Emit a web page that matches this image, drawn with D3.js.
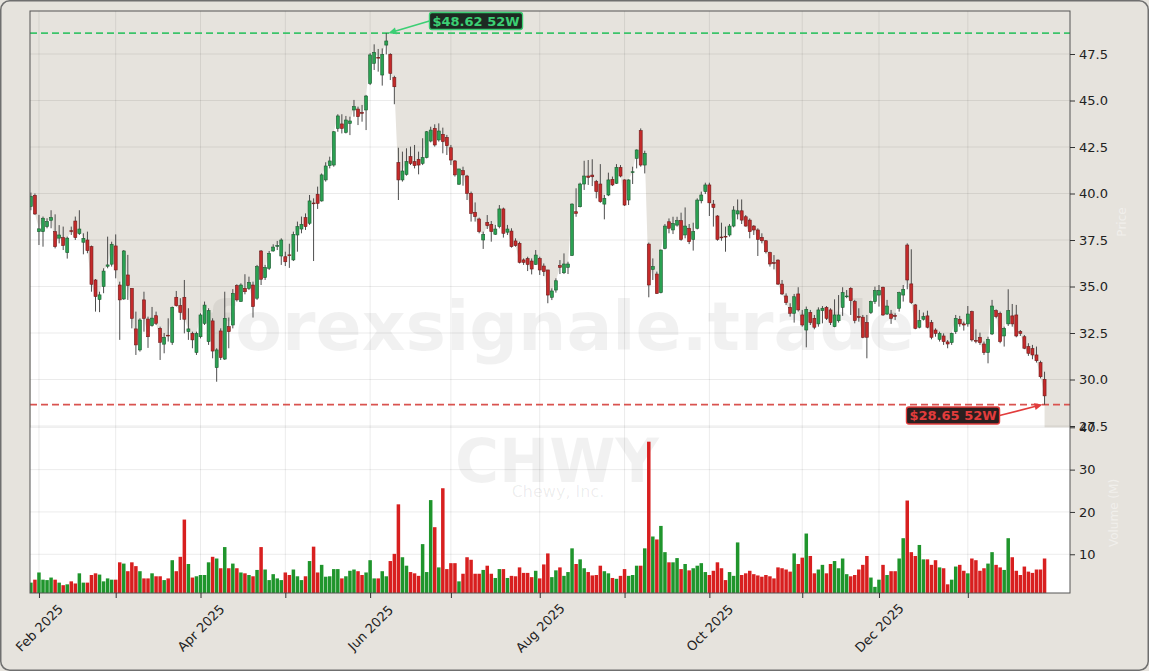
<!DOCTYPE html>
<html><head><meta charset="utf-8">
<script src="https://cdn.jsdelivr.net/npm/d3@7/dist/d3.min.js"></script>
<style>html,body{margin:0;padding:0;background:#e6e3dd;}svg{display:block;font-family:"DejaVu Sans",sans-serif;}</style>
</head><body><svg id="c" width="1149" height="671"></svg>
<script>
// ---- data ----
const startDate = "2025-01-30", endDate = "2026-01-30";
const holidays = ["2025-02-17","2025-04-18","2025-05-26","2025-06-19","2025-07-04","2025-09-01","2025-11-27","2025-12-25","2026-01-01","2026-01-19"];
const open = [39.30,39.90,37.95,37.95,38.22,38.56,37.95,37.60,37.63,36.82,38.00,38.52,37.84,37.38,37.50,37.14,35.35,34.30,35.00,36.09,36.20,37.18,35.08,34.33,35.62,34.90,32.72,31.59,34.28,33.25,32.90,33.43,32.75,31.90,32.38,32.00,34.42,33.97,34.42,32.57,32.48,31.45,32.30,33.02,32.04,33.15,30.64,32.61,31.10,32.84,32.93,35.05,34.19,34.90,34.90,35.08,34.37,36.91,35.48,35.98,36.91,37.18,36.64,36.60,36.70,36.43,37.77,38.09,38.70,38.40,39.49,39.96,39.60,40.73,41.50,41.53,43.50,43.74,43.29,43.77,44.49,44.54,44.36,44.49,45.92,47.00,47.32,46.37,47.98,47.48,46.23,41.66,40.73,41.03,41.98,41.71,41.84,41.62,41.93,42.82,43.50,42.88,43.18,43.02,42.46,41.75,40.50,41.23,40.94,40.01,38.99,38.63,37.50,38.45,38.34,37.81,38.22,39.17,37.92,37.98,37.45,37.32,36.43,36.50,36.37,36.19,36.50,36.10,35.89,34.42,34.81,36.12,35.74,36.03,36.67,39.02,39.29,40.51,40.94,40.99,40.64,40.51,39.43,39.92,40.76,40.55,41.40,40.73,39.65,41.15,41.89,43.38,41.53,37.28,35.92,35.67,34.67,37.05,38.48,38.04,38.30,38.54,37.77,38.13,37.53,38.13,39.61,40.10,40.46,39.43,38.79,37.66,37.70,37.77,38.25,38.90,39.07,38.75,38.57,38.25,38.04,37.64,37.46,36.82,36.28,36.42,35.13,34.49,33.88,33.56,34.60,33.47,32.66,33.60,33.29,32.99,33.70,33.88,33.74,32.84,33.16,33.88,34.47,34.90,34.19,33.38,33.35,33.06,33.60,34.19,34.54,34.96,33.52,33.52,33.44,33.83,34.54,37.23,35.14,34.01,32.81,33.24,33.42,33.06,32.66,32.16,32.34,32.02,31.98,32.57,33.24,32.99,32.99,33.65,32.10,32.27,31.91,31.45,32.45,33.70,33.56,32.34,32.99,33.42,33.47,32.57,32.30,31.77,31.66,31.32,30.91,30.01];
const high = [40.05,40.00,38.85,38.76,38.67,39.10,38.88,38.30,38.22,37.68,38.22,38.76,39.10,37.86,37.95,37.20,35.40,34.72,35.98,37.68,37.41,37.80,35.26,36.96,36.70,34.90,33.65,33.29,34.72,33.38,33.90,33.65,32.84,32.50,33.29,33.92,34.76,34.37,35.35,33.83,32.57,32.57,33.56,34.19,33.83,33.29,31.68,32.75,34.72,33.33,34.86,35.12,35.17,35.66,35.53,35.26,36.16,36.96,36.16,36.91,37.27,37.45,37.59,36.87,37.30,37.95,38.49,38.76,38.93,39.92,39.74,40.37,41.08,41.68,41.98,43.36,44.26,44.26,44.17,44.13,45.03,44.67,44.76,45.30,47.54,48.02,47.77,47.80,48.62,47.54,46.33,42.46,42.25,42.43,42.52,42.61,42.25,42.97,43.36,43.59,43.72,43.77,43.54,43.15,42.61,41.80,41.32,41.44,41.00,40.10,39.52,38.70,37.95,38.84,38.52,38.31,39.38,39.24,38.31,38.13,37.59,37.41,36.51,36.60,36.51,36.96,36.60,36.24,35.89,34.90,35.44,36.42,36.78,36.33,39.47,40.28,40.58,41.76,41.80,41.84,40.73,41.58,39.92,41.12,40.91,41.58,41.53,40.76,40.76,41.44,42.37,43.50,42.30,37.36,36.51,35.80,36.99,38.36,38.66,38.75,38.75,38.97,39.25,38.36,38.43,39.74,40.10,40.58,40.58,39.65,38.84,38.43,38.22,38.36,39.32,39.68,39.68,38.84,38.66,38.30,38.13,37.86,37.50,36.87,36.69,36.46,35.35,34.63,34.10,34.60,34.96,33.74,33.92,33.74,33.47,33.88,33.95,33.95,33.83,34.31,34.54,34.96,34.81,34.96,34.28,33.83,33.47,33.47,34.24,34.99,35.08,34.99,34.28,33.74,33.56,34.72,35.08,37.32,37.00,34.06,33.74,33.60,33.70,33.20,32.75,32.57,32.48,32.12,32.52,33.47,33.42,33.11,33.95,33.70,32.70,32.52,32.04,32.30,34.28,33.77,33.65,32.84,34.85,34.06,34.01,32.66,32.39,31.95,31.86,31.77,31.01,30.42];
const low = [39.10,38.85,37.23,37.14,38.13,38.13,37.05,37.32,36.96,36.50,37.77,37.50,37.77,36.73,36.79,34.72,33.65,33.62,34.64,35.98,36.07,35.44,32.13,34.28,34.28,32.75,31.32,31.50,32.57,31.70,32.84,32.93,31.05,31.41,32.04,31.86,33.92,33.20,32.48,32.13,31.68,31.32,32.21,32.93,31.86,31.14,29.88,31.05,31.05,31.68,32.75,34.19,34.19,34.58,34.81,33.33,34.28,35.08,35.35,35.89,36.87,36.96,36.16,36.10,36.00,36.37,36.87,37.86,38.04,38.31,36.37,39.17,39.56,40.64,41.35,41.44,43.32,43.23,43.23,43.14,44.13,43.68,43.86,43.41,45.83,46.64,46.55,45.80,47.48,46.10,44.80,39.65,40.64,40.96,41.53,41.35,41.03,41.53,41.89,42.75,42.52,42.79,42.16,42.07,41.53,40.91,40.46,40.42,39.65,38.49,38.49,37.86,37.02,38.09,37.41,37.77,38.13,37.63,37.77,37.09,37.14,36.24,36.16,35.83,35.65,36.16,35.62,35.56,34.10,34.27,34.67,35.67,35.67,35.67,36.64,38.75,39.25,40.19,40.46,40.40,39.74,39.50,38.61,39.86,40.40,40.51,40.87,39.33,39.38,40.51,41.35,41.44,41.08,34.42,35.35,34.60,34.63,37.00,37.86,37.82,38.22,37.46,37.59,37.28,36.93,38.07,39.47,39.97,38.79,38.22,37.46,37.46,36.87,37.68,38.18,38.61,38.36,38.22,37.59,37.77,36.64,37.32,36.78,36.07,35.92,35.08,34.54,34.00,33.38,33.06,33.65,32.84,31.73,32.93,32.70,32.84,33.02,33.20,32.93,32.81,33.06,33.42,34.37,33.47,33.02,33.11,32.22,31.14,33.52,34.06,33.92,33.42,33.47,32.99,33.20,33.65,34.19,34.85,34.06,32.70,32.75,33.17,32.75,32.16,32.30,32.04,31.86,31.68,31.86,32.45,32.84,32.63,32.84,32.04,31.95,31.86,31.32,30.87,32.39,33.29,31.95,31.77,32.88,32.84,32.27,32.34,31.63,31.27,31.09,30.91,30.06,28.65];
const close = [39.85,38.90,38.10,38.67,38.49,38.70,37.14,37.77,37.20,37.60,37.97,37.63,38.09,37.59,36.93,35.12,34.46,34.55,35.83,36.16,37.27,35.89,34.28,36.91,35.05,33.29,31.86,33.20,33.29,32.30,33.30,33.02,32.00,32.27,32.36,33.88,33.97,33.61,33.24,32.72,32.13,32.48,33.47,34.00,33.70,31.53,31.59,31.18,33.29,32.57,34.63,34.28,35.08,34.72,35.22,33.92,36.07,35.39,36.02,36.78,37.12,37.20,37.50,36.33,36.69,37.80,38.22,38.34,38.22,39.60,39.47,39.47,41.00,41.48,41.75,43.32,44.17,43.50,43.95,43.90,44.67,44.13,44.31,45.24,47.45,47.59,47.30,47.48,48.20,46.46,45.74,40.73,41.21,41.71,41.62,41.50,41.53,41.93,43.32,43.41,42.61,43.36,42.79,42.57,41.80,41.00,41.32,41.00,40.01,38.93,38.76,37.95,37.80,38.27,37.95,38.09,39.17,37.86,38.09,37.14,37.20,36.30,36.30,36.19,35.94,36.69,35.89,35.80,34.54,34.76,35.31,36.03,36.21,36.21,39.43,38.93,40.51,40.94,40.87,40.90,40.10,39.56,39.74,40.73,40.46,41.40,40.94,39.38,40.73,41.17,42.34,41.53,42.16,35.08,36.07,34.63,36.96,38.25,38.13,38.39,38.54,37.53,38.25,37.41,37.95,39.65,39.92,40.46,39.50,39.25,37.53,37.64,37.68,38.25,39.11,39.07,38.57,38.25,37.95,38.04,37.53,37.46,36.87,36.21,36.24,35.13,34.60,34.13,33.56,34.45,33.74,32.93,33.77,33.06,32.81,33.74,33.83,33.29,33.06,33.47,33.47,34.67,34.49,34.24,33.17,33.35,32.27,32.27,34.19,34.78,34.78,33.47,33.95,33.29,33.42,34.67,34.85,35.35,34.13,32.75,33.17,33.38,32.81,32.27,32.48,32.48,32.04,31.91,32.48,33.29,32.99,32.93,33.52,32.13,32.09,31.98,31.45,32.16,33.95,33.38,32.04,32.75,33.70,32.99,32.34,32.48,31.68,31.41,31.32,31.01,30.15,29.12];
const volume = [3.3,4.0,5.7,4.0,3.9,4.5,4.0,3.3,2.7,2.9,3.6,3.1,5.5,3.3,3.3,5.1,5.5,5.2,3.6,4.3,4.0,4.0,8.1,7.8,6.0,8.1,7.2,6.0,4.3,4.3,5.5,4.8,4.8,3.9,4.3,8.6,6.0,9.4,18.2,7.7,4.5,4.8,5.1,5.1,8.1,9.4,9.0,6.7,11.7,6.7,7.8,6.7,5.7,5.5,5.1,4.8,6.3,11.7,6.4,3.9,5.3,4.3,3.9,5.7,5.1,6.4,4.8,3.9,4.8,8.4,11.8,5.7,7.5,4.7,4.8,6.5,6.5,4.3,4.8,6.1,6.4,6.0,5.1,5.7,8.6,4.3,4.3,6.0,4.8,8.4,10.1,21.8,9.3,7.3,5.8,5.5,4.9,12.4,5.8,22.8,16.4,6.9,25.6,6.5,7.9,7.9,3.6,5.4,9.3,8.7,5.4,5.4,6.3,7.3,5.4,4.4,6.5,6.5,4.4,4.9,4.8,6.9,5.6,5.6,4.6,6.1,4.3,7.6,10.2,4.6,6.2,6.9,4.9,5.8,11.4,7.7,8.8,6.7,5.8,5.0,5.1,7.3,6.0,5.5,4.4,4.2,4.9,6.5,4.9,5.1,7.3,7.3,11.4,36.6,14.2,13.5,16.7,10.5,8.1,8.1,9.1,6.5,7.7,6.2,6.7,7.3,7.9,5.8,5.1,6.1,8.1,6.7,3.9,5.8,4.9,12.8,5.1,5.5,6.1,5.3,5.0,4.7,5.1,4.8,4.3,6.9,6.7,6.4,5.9,10.2,7.7,9.2,14.9,9.6,5.5,6.4,7.5,5.5,7.7,8.4,6.7,9.0,5.3,4.8,5.1,6.4,7.5,9.6,4.5,2.3,4.0,7.5,5.1,6.0,6.0,9.0,13.8,22.7,10.5,9.6,12.2,8.8,8.8,7.5,8.6,6.9,6.7,2.9,4.0,7.1,7.5,6.1,5.5,9.0,8.6,6.1,6.7,7.8,10.5,7.5,6.9,6.3,13.8,9.3,6.1,5.1,7.1,5.9,5.6,6.4,6.4,9.0];
const priceTicks = [27.5,30.0,32.5,35.0,37.5,40.0,42.5,45.0,47.5];
const volumeTicks = [10,20,30,40];
const labeledMonths = [1,3,5,7,9,11];
const high52 = 48.62, low52 = 28.65;
const high52Label = "$48.62 52W", low52Label = "$28.65 52W";
const watermark = "forexsignale.trade", ticker = "CHWY", company = "Chewy, Inc.";
const priceAxisTitle = "Price", volumeAxisTitle = "Volume (M)";

// ---- trading days ----
const parse = d3.utcParse("%Y-%m-%d"), fmt = d3.utcFormat("%Y-%m-%d");
const hol = new Set(holidays);
const dates = [];
for (let d = parse(startDate); d <= parse(endDate); d = d3.utcDay.offset(d, 1)) {
  const wd = d.getUTCDay();
  if (wd === 0 || wd === 6 || hol.has(fmt(d))) continue;
  dates.push(d);
}
const n = close.length;
const data = d3.range(n).map(i => ({i, date: dates[i], o: open[i], h: high[i], l: low[i], c: close[i], v: volume[i]}));
const monthStarts = data.filter((d, k) => k > 0 && d.date.getUTCMonth() !== data[k-1].date.getUTCMonth());

// ---- layout ----
const W = 1149, H = 671;
const L = 30, R = 1070, T = 11, B = 593;
const x = d3.scaleLinear().domain([-0.22, 257.3]).range([L, R]);
const y = d3.scaleLinear().domain([27.5, 47.5]).range([426, 54]);
const yv = d3.scaleLinear().domain([0.85, 40]).range([B, 427.3]);
const BG = "#e6e3dd";
const svg = d3.select("#c");

svg.append("rect").attr("x", 0.75).attr("y", 0.75).attr("width", W - 1.5).attr("height", H - 1.5)
  .attr("rx", 9).attr("fill", BG).attr("stroke", "#6f6f6f").attr("stroke-width", 1.5);

const defs = svg.append("defs");
defs.append("clipPath").attr("id", "plot").append("rect").attr("x", L).attr("y", T).attr("width", R - L).attr("height", B - T);
const g = svg.append("g").attr("clip-path", "url(#plot)");
g.append("rect").attr("x", L).attr("y", T).attr("width", R - L).attr("height", B - T).attr("fill", BG);

// white area under closes + volume pane
const area = d3.area().x(d => x(d.i)).y0(B).y1(d => y(d.c));
g.append("path").datum(data).attr("d", area).attr("fill", "#ffffff");
g.append("rect").attr("x", L).attr("y", yv(40)).attr("width", R - L).attr("height", B - yv(40)).attr("fill", "#ffffff");

// grid
const grid = g.append("g").attr("stroke", "#000").attr("stroke-opacity", 0.1).attr("stroke-width", 0.8);
grid.selectAll(".gx").data(monthStarts).join("line").attr("x1", d => x(d.i)).attr("x2", d => x(d.i)).attr("y1", T).attr("y2", B);
grid.selectAll(".gy").data(priceTicks).join("line").attr("x1", L).attr("x2", R).attr("y1", d => y(d)).attr("y2", d => y(d));
grid.selectAll(".gv").data(volumeTicks).join("line").attr("x1", L).attr("x2", R).attr("y1", d => yv(d)).attr("y2", d => yv(d));

// watermarks
g.append("text").attr("x", 560).attr("y", 350).attr("text-anchor", "middle").attr("font-size", 68).attr("font-weight", "bold")
  .attr("fill", "#000").attr("fill-opacity", 0.055).text(watermark);
g.append("text").attr("x", 557).attr("y", 482).attr("text-anchor", "middle").attr("font-size", 60).attr("font-weight", "bold")
  .attr("fill", "#000").attr("fill-opacity", 0.055).text(ticker);
g.append("text").attr("x", 558).attr("y", 497).attr("text-anchor", "middle").attr("font-size", 16)
  .attr("fill", "#000").attr("fill-opacity", 0.08).text(company);

// 52w lines
g.append("line").attr("x1", L).attr("x2", R).attr("y1", y(high52)).attr("y2", y(high52))
  .attr("stroke", "#3cc46a").attr("stroke-width", 1.6).attr("stroke-dasharray", "7,4");
g.append("line").attr("x1", L).attr("x2", R).attr("y1", y(low52)).attr("y2", y(low52))
  .attr("stroke", "#d9534f").attr("stroke-width", 1.6).attr("stroke-dasharray", "7,4");

// volume bars
const GV = "#1f952c", RV = "#d81f1f";
g.append("g").selectAll("rect").data(data).join("rect")
  .attr("x", d => x(d.i) - 1.75).attr("width", 3.5)
  .attr("y", d => yv(d.v)).attr("height", d => B - yv(d.v))
  .attr("fill", d => d.c >= d.o ? GV : RV);

// candles
const cg = g.append("g");
cg.selectAll("line").data(data).join("line")
  .attr("x1", d => x(d.i)).attr("x2", d => x(d.i)).attr("y1", d => y(d.h)).attr("y2", d => y(d.l))
  .attr("stroke", "#3a3a3a").attr("stroke-width", 0.9);
cg.selectAll("rect").data(data).join("rect")
  .attr("x", d => x(d.i) - 1.5).attr("width", 3)
  .attr("y", d => y(Math.max(d.o, d.c))).attr("height", d => Math.max(0.8, Math.abs(y(d.o) - y(d.c))))
  .attr("fill", d => d.c >= d.o ? "#2aa152" : "#c42a2a")
  .attr("stroke", d => d.c >= d.o ? "#1d5a30" : "#6e1c1c").attr("stroke-width", 0.6);

// frame
svg.append("rect").attr("x", L).attr("y", T).attr("width", R - L).attr("height", B - T)
  .attr("fill", "none").attr("stroke", "#555").attr("stroke-width", 1);

// right axes
const axP = svg.append("g").attr("transform", `translate(${R},0)`)
  .call(d3.axisRight(y).tickValues(priceTicks).tickFormat(d3.format(".1f")).tickSize(5).tickPadding(4));
const axV = svg.append("g").attr("transform", `translate(${R},0)`)
  .call(d3.axisRight(yv).tickValues(volumeTicks).tickFormat(d3.format("d")).tickSize(5).tickPadding(4));
[axP, axV].forEach(a => {
  a.select(".domain").remove();
  a.selectAll("line").attr("stroke", "#333");
  a.selectAll("text").attr("font-size", 13).attr("fill", "#222").attr("font-family", "DejaVu Sans");
});

// faint axis titles (right side)
svg.append("text").attr("transform", "translate(1126,222) rotate(-90)").attr("text-anchor", "middle")
  .attr("font-size", 12).attr("fill", "#ffffff").attr("fill-opacity", 0.45).text(priceAxisTitle);
svg.append("text").attr("transform", "translate(1118,513) rotate(-90)").attr("text-anchor", "middle")
  .attr("font-size", 12).attr("fill", "#ffffff").attr("fill-opacity", 0.45).text(volumeAxisTitle);

// bottom axis: rotated labels centred under their tick
const axX = svg.append("g").attr("transform", `translate(0,${B})`)
  .call(d3.axisBottom(x).tickValues(monthStarts.map(d => d.i)).tickSize(5)
    .tickFormat(i => labeledMonths.includes(dates[i].getUTCMonth()) ? d3.utcFormat("%b %Y")(dates[i]) : ""));
axX.select(".domain").remove();
axX.selectAll("line").attr("stroke", "#333");
axX.selectAll("text").attr("font-size", 13).attr("fill", "#222").attr("font-family", "DejaVu Sans")
  .attr("text-anchor", "middle").attr("dominant-baseline", "central")
  .attr("x", 0).attr("y", 35).attr("dy", null).attr("transform", "rotate(-45,0,35)");

// annotations
function annot(label, bx, by, tx, ty, col, bg) {
  const a = svg.append("g");
  const t = a.append("text").attr("x", bx).attr("y", by).attr("font-size", 13).attr("font-weight", "bold")
    .attr("fill", col).attr("dominant-baseline", "central").attr("text-anchor", "middle").text(label);
  const bb = t.node().getBBox();
  a.insert("rect", "text").attr("x", bb.x - 3).attr("y", bb.y - 1).attr("width", bb.width + 6).attr("height", bb.height + 2)
    .attr("rx", 2.5).attr("fill", bg).attr("stroke", col).attr("stroke-width", 1.3);
  const sx = tx < bx ? bb.x - 3 : bb.x + bb.width + 3;
  const ang = Math.atan2(ty - by, tx - sx);
  a.append("line").attr("x1", sx).attr("y1", by).attr("x2", tx - 6 * Math.cos(ang)).attr("y2", ty - 6 * Math.sin(ang))
    .attr("stroke", col).attr("stroke-width", 1.6);
  const hl = 8, hw = 3.5;
  const p = [[tx, ty],
    [tx - hl * Math.cos(ang) + hw * Math.sin(ang), ty - hl * Math.sin(ang) - hw * Math.cos(ang)],
    [tx - hl * Math.cos(ang) - hw * Math.sin(ang), ty - hl * Math.sin(ang) + hw * Math.cos(ang)]];
  a.append("path").attr("d", d3.line()(p) + "Z").attr("fill", col);
}
const iHi = d3.maxIndex(data, d => d.h), iLo = d3.minIndex(data, d => d.l);
annot(high52Label, 476, 21, x(iHi) + 2, y(high52), "#3ccf74", "#1d2a22");
annot(low52Label, 953, 415.5, x(iLo) - 2, y(low52), "#e23c3c", "#2a1f1f");
</script></body></html>
